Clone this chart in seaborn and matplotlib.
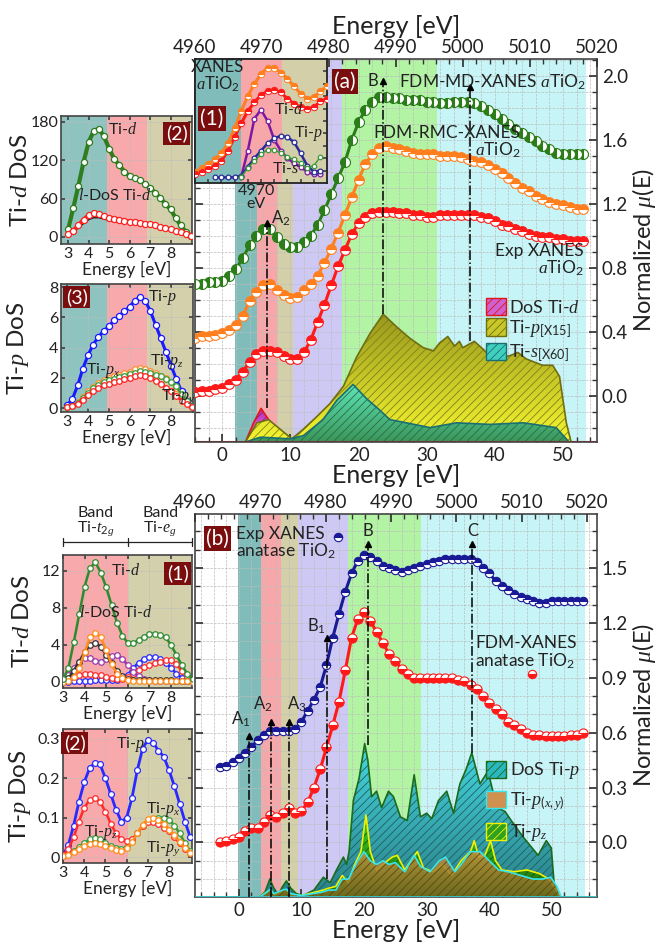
import numpy as np
import pandas as pd
import matplotlib
matplotlib.use('Agg')
import matplotlib.pyplot as plt
import seaborn as sns
from matplotlib.colors import LinearSegmentedColormap
from matplotlib.patches import Patch
from matplotlib.ticker import MultipleLocator

# ---------------- DATA ----------------
# Panel (a): XANES spectra, energy relative to edge (eV)
a_energy = list(range(-4, 54))
a_md = [0.70, 0.70, 0.71, 0.71, 0.72, 0.75, 0.79, 0.86, 0.94, 1.00, 1.04, 1.04, 0.99, 0.95, 0.93, 0.93,
        0.96, 1.00, 1.07, 1.16, 1.26, 1.36, 1.46, 1.60, 1.71, 1.79, 1.84, 1.87, 1.87, 1.86, 1.86, 1.85,
        1.85, 1.85, 1.84, 1.84, 1.83, 1.83, 1.84, 1.84, 1.84, 1.83, 1.81, 1.79, 1.76, 1.73, 1.70, 1.67,
        1.64, 1.62, 1.59, 1.56, 1.54, 1.52, 1.51, 1.51, 1.51, 1.51]
a_rmc = [0.36, 0.37, 0.37, 0.38, 0.39, 0.41, 0.44, 0.50, 0.59, 0.65, 0.69, 0.70, 0.66, 0.63, 0.61, 0.62,
         0.66, 0.70, 0.75, 0.83, 0.92, 1.02, 1.13, 1.24, 1.35, 1.45, 1.51, 1.55, 1.56, 1.55, 1.54, 1.53,
         1.52, 1.51, 1.51, 1.51, 1.50, 1.50, 1.50, 1.49, 1.48, 1.47, 1.46, 1.44, 1.42, 1.39, 1.36, 1.33,
         1.30, 1.28, 1.25, 1.23, 1.21, 1.20, 1.19, 1.18, 1.17, 1.17]
a_exp = [0.02, 0.03, 0.03, 0.04, 0.05, 0.07, 0.10, 0.15, 0.21, 0.26, 0.28, 0.28, 0.27, 0.25, 0.23, 0.23,
         0.27, 0.35, 0.46, 0.57, 0.69, 0.81, 0.91, 1.01, 1.08, 1.12, 1.14, 1.15, 1.15, 1.15, 1.14, 1.14,
         1.13, 1.13, 1.12, 1.12, 1.13, 1.13, 1.13, 1.13, 1.13, 1.13, 1.12, 1.11, 1.09, 1.07, 1.06, 1.04,
         1.03, 1.01, 1.00, 0.99, 0.99, 0.98, 0.98, 0.97, 0.97, 0.97]
# Panel (a): DoS (drawn in the mu(E) axis units, baseline -0.29)
a_dos_d_x = [2.8, 3.4, 4.6, 5.7, 6.8, 8.0, 9.2, 10.0]
a_dos_d_y = [-0.29, -0.29, -0.17, -0.08, -0.15, -0.25, -0.29, -0.29]
a_dos_p_x = [3.4, 5.1, 6.8, 8.5, 10.2, 11.9, 13.9, 15.8, 17.8, 19.7, 21.7, 23.6, 25.6, 27.5, 29.5, 31.0,
             31.9, 33.1, 34.1, 34.8, 35.3, 37.0, 38.3, 39.5, 41.2, 42.2, 43.4, 44.6, 47.0, 48.5, 49.5,
             50.5, 51.2]
a_dos_p_y = [-0.29, -0.17, -0.15, -0.21, -0.27, -0.21, -0.13, -0.05, 0.06, 0.24, 0.39, 0.51, 0.43, 0.36,
             0.30, 0.28, 0.33, 0.37, 0.31, 0.34, 0.30, 0.34, 0.29, 0.24, 0.24, 0.25, 0.27, 0.23, 0.19,
             0.19, 0.12, -0.17, -0.29]
a_dos_s_x = [3.4, 5.6, 10.0, 11.9, 14.8, 16.8, 19.2, 21.2, 23.1, 24.6, 27.0, 30.5, 34.4, 39.3, 44.2, 49.0, 50.9]
a_dos_s_y = [-0.29, -0.26, -0.27, -0.25, -0.15, -0.03, 0.07, -0.02, -0.09, -0.15, -0.17, -0.20, -0.17,
             -0.18, -0.17, -0.20, -0.29]

# Panel (a) inset (1): normalised inset coordinates
a1_x = [0.0, 0.05, 0.1, 0.15, 0.2, 0.25, 0.3, 0.35, 0.4, 0.45, 0.5, 0.55, 0.6, 0.65, 0.7, 0.75, 0.8,
        0.85, 0.9, 0.95, 1.0]
a1_orange = [0.09, 0.12, 0.15, 0.19, 0.24, 0.32, 0.44, 0.58, 0.70, 0.80, 0.88, 0.93, 0.93, 0.89, 0.84,
             0.78, 0.72, 0.68, 0.69, 0.74, 0.78]
a1_red = [0.07, 0.09, 0.11, 0.14, 0.18, 0.26, 0.37, 0.48, 0.58, 0.65, 0.71, 0.74, 0.75, 0.73, 0.68,
          0.64, 0.61, 0.60, 0.61, 0.66, 0.68]
a1_d_x = [0.35, 0.4, 0.45, 0.5, 0.55, 0.6, 0.65, 0.7, 0.75, 0.8, 0.85, 0.9, 0.95]
a1_d = [0.05, 0.26, 0.52, 0.59, 0.50, 0.35, 0.26, 0.20, 0.16, 0.13, 0.09, 0.07, 0.07]
a1_p_x = [0.15, 0.2, 0.25, 0.3, 0.35, 0.4, 0.45, 0.5, 0.55, 0.6, 0.65, 0.7, 0.75, 0.8, 0.85, 0.9, 0.95]
a1_p = [0.045, 0.045, 0.045, 0.045, 0.06, 0.13, 0.20, 0.26, 0.32, 0.36, 0.38, 0.37, 0.33, 0.24, 0.14, 0.09, 0.10]
a1_s_x = [0.35, 0.4, 0.45, 0.5, 0.55, 0.6, 0.65, 0.7, 0.75, 0.8, 0.85, 0.9, 0.95]
a1_s = [0.05, 0.12, 0.18, 0.23, 0.27, 0.27, 0.24, 0.21, 0.19, 0.16, 0.12, 0.14, 0.21]

# Left insets energy grid (eV)
ins_e = [3.0, 3.25, 3.5, 3.75, 4.0, 4.25, 4.5, 4.75, 5.0, 5.25, 5.5, 5.75, 6.0, 6.25, 6.5, 6.75, 7.0,
         7.25, 7.5, 7.75, 8.0, 8.25, 8.5, 8.75, 9.0]
# inset (2) of panel (a): Ti-d DoS
a2_tid = [12, 45, 80, 117, 148, 166, 169, 157, 138, 122, 112, 102, 95, 92, 89, 83, 77, 69, 61, 52, 43,
          30, 18, 8, 2]
a2_ldos = [5, 10, 18, 27, 34, 37, 36, 33, 30, 28, 27, 25, 24, 23, 22, 21, 20, 18, 16, 14, 12, 10, 7, 4, 1]
a2_ldos_k = [4, 8, 14, 21, 27, 30, 30, 28, 26, 24, 23, 22, 21, 20, 20, 19, 18, 17, 15, 13, 11, 9, 6, 3, 1]
# inset (3) of panel (a): Ti-p DoS
a3_tip = [0.2, 0.6, 1.5, 2.6, 3.5, 4.2, 4.7, 5.1, 5.4, 5.8, 6.1, 6.4, 6.7, 7.1, 7.35, 7.1, 6.4, 5.5, 4.6,
          3.7, 2.8, 1.9, 1.1, 0.5, 0.15]
a3_tipz = [0.05, 0.15, 0.4, 0.75, 1.1, 1.4, 1.65, 1.85, 2.0, 2.1, 2.2, 2.3, 2.4, 2.55, 2.65, 2.6, 2.45,
           2.3, 2.15, 2.0, 1.75, 1.3, 0.8, 0.35, 0.1]
a3_tipx = [0.05, 0.15, 0.35, 0.65, 1.0, 1.3, 1.5, 1.7, 1.85, 1.95, 2.05, 2.15, 2.25, 2.35, 2.45, 2.4,
           2.3, 2.2, 2.1, 1.95, 1.75, 1.45, 0.9, 0.45, 0.15]
a3_tipy = [0.05, 0.15, 0.3, 0.55, 0.85, 1.1, 1.3, 1.5, 1.6, 1.7, 1.8, 1.9, 2.0, 2.1, 2.2, 2.15, 2.0,
           1.8, 1.6, 1.35, 1.1, 0.8, 0.5, 0.25, 0.08]

# Panel (b): XANES anatase
b_energy = list(range(-3, 56))
b_exp = [0.41, 0.42, 0.44, 0.46, 0.49, 0.52, 0.56, 0.59, 0.61, 0.61, 0.61, 0.61, 0.62, 0.66, 0.72, 0.78,
         0.85, 0.97, 1.12, 1.25, 1.37, 1.47, 1.54, 1.57, 1.56, 1.54, 1.51, 1.50, 1.49, 1.48, 1.49, 1.50,
         1.51, 1.52, 1.53, 1.54, 1.55, 1.55, 1.55, 1.55, 1.55, 1.53, 1.50, 1.47, 1.43, 1.40, 1.38, 1.36,
         1.34, 1.33, 1.32, 1.31, 1.31, 1.32, 1.32, 1.32, 1.32, 1.32, 1.32]
b_fdm = [0.00, 0.01, 0.02, 0.03, 0.06, 0.08, 0.08, 0.11, 0.15, 0.14, 0.16, 0.19, 0.16, 0.17, 0.22, 0.30,
         0.40, 0.52, 0.64, 0.77, 0.94, 1.12, 1.22, 1.26, 1.21, 1.15, 1.09, 1.03, 0.99, 0.95, 0.92, 0.90,
         0.90, 0.90, 0.90, 0.90, 0.90, 0.90, 0.89, 0.88, 0.86, 0.84, 0.80, 0.76, 0.73, 0.70, 0.66, 0.64,
         0.62, 0.60, 0.59, 0.59, 0.58, 0.58, 0.58, 0.58, 0.59, 0.59, 0.60]
# Panel (b): DoS (baseline -0.30)
b_dos_p_x = [-7, 3.3, 4.2, 4.95, 5.6, 6.3, 7.0, 7.6, 8.3, 9.2, 10.3, 12.0, 13.5, 14.6, 15.6, 16.7, 17.2,
             17.6, 18.3, 19.2, 20.1, 20.6, 21.2, 22.0, 22.8, 23.9, 24.7, 25.8, 26.9, 28.0, 29.0, 30.0,
             30.8, 31.9, 33.2, 34.3, 35.3, 36.3, 37.2, 38.5, 39.8, 41.2, 42.5, 43.5, 45.4, 47.8, 49.1,
             49.9, 50.5, 50.8, 57]
b_dos_p_y = [-0.30, -0.30, -0.27, -0.20, -0.25, -0.285, -0.24, -0.21, -0.25, -0.28, -0.29, -0.26, -0.19,
             -0.22, -0.15, -0.08, -0.12, -0.05, 0.23, 0.35, 0.54, 0.45, 0.25, 0.28, 0.19, 0.28, 0.25,
             0.14, 0.12, 0.37, 0.14, 0.16, 0.13, 0.23, 0.28, 0.16, 0.32, 0.40, 0.49, 0.32, 0.39, 0.19,
             0.17, 0.12, 0.03, -0.07, 0.01, -0.03, -0.285, -0.30, -0.30]
b_dos_pz_x = [-7, 3.3, 4.5, 5.0, 5.6, 7.0, 7.6, 8.3, 10, 13.5, 14.3, 15.5, 16.5, 17.5, 18.5, 19.5, 20.3,
              21.0, 22, 23, 24.5, 25.3, 26.5, 27.5, 28.5, 29.5, 31, 32.5, 34, 35.5, 37, 37.6, 38.3,
              39.3, 40.2, 41, 42, 44, 46, 48, 49.5, 50.5, 51.3, 57]
b_dos_pz_y = [-0.30, -0.30, -0.27, -0.26, -0.285, -0.27, -0.26, -0.285, -0.29, -0.26, -0.25, -0.24,
              -0.18, -0.22, -0.12, -0.05, 0.15, -0.05, -0.15, -0.12, -0.08, -0.07, -0.15, -0.10, -0.05,
              -0.14, -0.16, -0.12, -0.18, -0.10, -0.05, 0.01, -0.08, -0.07, 0.01, -0.10, -0.15, -0.16,
              -0.15, -0.17, -0.20, -0.25, -0.30, -0.30]
b_dos_pxy_x = [-7, 3.3, 4.5, 5.0, 5.6, 7.0, 7.6, 8.3, 10, 13.5, 14.3, 15.5, 16.5, 17.5, 19.0, 20.0, 21.0,
               22.0, 23.0, 24.0, 25.0, 26.5, 28.0, 29.0, 30.5, 32.0, 33.0, 34.5, 35.5, 37.0, 38.5, 40.0,
               41.5, 43.0, 45.0, 47.0, 48.5, 49.8, 50.8, 51.5, 57]
b_dos_pxy_y = [-0.30, -0.30, -0.27, -0.255, -0.28, -0.26, -0.255, -0.28, -0.29, -0.27, -0.26, -0.26,
               -0.20, -0.20, -0.10, -0.05, -0.10, -0.12, -0.10, -0.12, -0.11, -0.16, -0.07, -0.13,
               -0.16, -0.10, -0.08, -0.16, -0.12, -0.05, -0.05, -0.10, -0.15, -0.16, -0.18, -0.20,
               -0.20, -0.19, -0.24, -0.30, -0.30]

# inset (1) of panel (b): Ti-d DoS
b1_tid = [0.3, 1.5, 4.3, 7.3, 10.3, 12.3, 12.9, 11.8, 10.2, 8.3, 6.4, 5.0, 4.2, 4.2, 4.5, 4.9, 5.2, 5.2,
          5.1, 4.8, 4.0, 2.9, 1.8, 0.9, 0.3]
b1_orange = [0.0, 0.1, 0.5, 1.5, 3.2, 4.8, 5.3, 4.8, 3.4, 1.9, 0.9, 0.4, 0.2, 0.15, 0.15, 0.15, 0.15,
             0.15, 0.15, 0.12, 0.12, 0.1, 0.1, 0.08, 0.05]
b1_black = [0.1, 0.4, 1.2, 2.2, 3.2, 4.0, 4.2, 3.8, 2.9, 2.0, 1.2, 0.6, 0.3, 0.25, 0.2, 0.2, 0.2, 0.2,
            0.2, 0.2, 0.18, 0.15, 0.12, 0.1, 0.1]
b1_purple = [0.3, 0.8, 1.5, 2.2, 2.6, 2.6, 2.3, 2.2, 2.5, 2.85, 2.9, 2.5, 1.8, 1.1, 0.6, 0.35, 0.2, 0.15,
             0.12, 0.1, 0.1, 0.1, 0.1, 0.1, 0.1]
b1_blue = [0.0, 0.05, 0.08, 0.1, 0.12, 0.15, 0.18, 0.18, 0.18, 0.18, 0.2, 0.4, 0.8, 1.5, 2.1, 2.5, 2.7,
           2.7, 2.5, 2.1, 1.5, 0.9, 0.45, 0.2, 0.05]
b1_red = [0.1, 0.3, 0.55, 0.75, 0.85, 0.85, 0.8, 0.7, 0.55, 0.4, 0.3, 0.3, 0.5, 0.9, 1.3, 1.6, 1.8, 2.0,
          2.2, 2.4, 2.35, 1.9, 1.2, 0.5, 0.15]
# inset (2) of panel (b): Ti-p DoS
b2_tip = [0.005, 0.03, 0.08, 0.14, 0.19, 0.225, 0.24, 0.235, 0.2, 0.16, 0.12, 0.09, 0.1, 0.15, 0.22,
          0.275, 0.298, 0.29, 0.27, 0.255, 0.22, 0.18, 0.135, 0.09, 0.05]
b2_tipz = [0.005, 0.02, 0.05, 0.09, 0.125, 0.145, 0.15, 0.14, 0.115, 0.085, 0.06, 0.045, 0.04, 0.045,
           0.06, 0.08, 0.09, 0.09, 0.085, 0.075, 0.065, 0.05, 0.035, 0.02, 0.01]
b2_tipx = [0.003, 0.008, 0.015, 0.025, 0.035, 0.045, 0.048, 0.045, 0.037, 0.028, 0.022, 0.02, 0.025,
           0.04, 0.06, 0.08, 0.092, 0.097, 0.1, 0.1, 0.095, 0.08, 0.06, 0.035, 0.015]
b2_tipy = [0.003, 0.006, 0.012, 0.02, 0.028, 0.034, 0.036, 0.034, 0.028, 0.022, 0.017, 0.016, 0.022,
           0.038, 0.06, 0.082, 0.097, 0.1, 0.095, 0.085, 0.07, 0.055, 0.038, 0.022, 0.01]

# Energy-range bands (eV)
a_bands = [(1.9, 5.1, '#80bdba'), (5.1, 8.0, '#f7a7a9'), (8.0, 10.4, '#d3cfa9'),
           (10.4, 17.6, '#cdc9f4'), (17.6, 31.5, '#b2f4a4'), (31.5, 53.4, '#c7f4f6')]
b_bands = [(-0.2, 3.5, '#80bdba'), (3.5, 6.7, '#f7a7a9'), (6.7, 9.4, '#d3cfa9'),
           (9.4, 17.4, '#cdc9f4'), (17.4, 29.1, '#b2f4a4'), (29.1, 55.3, '#c7f4f6')]

# ---------------- STYLE ----------------
sns.set_theme(style='ticks')
plt.rcParams['font.family'] = ['Lato', 'DejaVu Sans']
plt.rcParams['mathtext.fontset'] = 'custom'
plt.rcParams['mathtext.rm'] = 'Lato'
plt.rcParams['mathtext.it'] = 'Liberation Serif:italic'
plt.rcParams['mathtext.bf'] = 'Lato:bold'
plt.rcParams['hatch.linewidth'] = 0.6
plt.rcParams['axes.edgecolor'] = '#444444'
plt.rcParams['axes.linewidth'] = 1.2

BOXC = '#7a0d0d'
TXT = '#222222'
fig = plt.figure(figsize=(6.6, 9.46), dpi=100)


def frac(l, t, r, b):
    return [l / 660, 1 - b / 946, (r - l) / 660, (b - t) / 946]


def bands(ax, spans):
    for x0, x1, c in spans:
        ax.axvspan(x0, x1, color=c, lw=0, zorder=0.1)


def grad_fill(ax, x, y, base, ctop, cbot, edge, hatch_c, z, lw=1.2, alpha=1.0):
    poly = ax.fill_between(x, base, y, facecolor='none', edgecolor='none', zorder=z)
    path = poly.get_paths()[0]
    cmap = LinearSegmentedColormap.from_list('g', [cbot, ctop])
    grad = np.linspace(1, 0, 256).reshape(-1, 1)
    im = ax.imshow(grad, extent=[min(x), max(x), base, max(y)], origin='upper', aspect='auto',
                   cmap=cmap, zorder=z, alpha=alpha, interpolation='bilinear')
    im.set_clip_path(path, transform=ax.transData)
    ax.fill_between(x, base, y, facecolor='none', edgecolor=hatch_c, hatch='////', linewidth=0,
                    zorder=z + 0.05)
    ax.plot(x, y, color=edge, lw=lw, zorder=z + 0.1)


def halfmark(ax, x, y, color, fs, ms, z=3, mew=0.8, line=True):
    if line:
        sns.lineplot(x=x, y=y, ax=ax, color=color, lw=2.2, zorder=z - 0.1)
    sns.lineplot(x=x, y=y, ax=ax, color=color, marker='o', linestyle='', markersize=ms,
                 fillstyle=fs, markerfacecolor=color, markerfacecoloralt='white',
                 markeredgecolor=color, markeredgewidth=mew, zorder=z)


def openmark(ax, x, y, color, ms=3.6, z=3, mew=0.9, lw=1.6):
    sns.lineplot(x=x, y=y, ax=ax, color=color, marker='o', linestyle='-',
                 lw=lw, markersize=ms, markerfacecolor='white', markeredgecolor=color,
                 markeredgewidth=mew, zorder=z)


def boxlabel(ax, x, y, s, fs=14):
    ax.text(x, y, s, color='white', fontsize=fs, ha='center', va='center', zorder=10,
            bbox=dict(boxstyle='square,pad=0.12', fc=BOXC, ec='none'))


def arrow_line(ax, x, y0, y1, lw=1.1):
    ax.plot([x, x], [y0, y1], color='black', ls='-.', lw=lw, zorder=4)
    ax.plot([x], [y1], marker='^', color='black', ms=4.5, zorder=4)


def setup_main(ax, xlim, ylim, ymaj, top_lim, top_label):
    ax.set_xlim(xlim)
    ax.set_ylim(ylim)
    ax.xaxis.set_major_locator(MultipleLocator(10))
    ax.xaxis.set_minor_locator(MultipleLocator(2))
    ax.yaxis.set_major_locator(MultipleLocator(ymaj))
    ax.yaxis.set_minor_locator(MultipleLocator(0.1))
    ax.yaxis.tick_right()
    ax.yaxis.set_label_position('right')
    ax.tick_params(which='both', direction='in', left=True, right=True, top=False, bottom=True,
                   labelsize=13.5, colors='#333333', labelcolor=TXT)
    ax.tick_params(which='major', length=6)
    ax.tick_params(which='minor', length=3.5)
    ax.set_axisbelow(True)
    ax.grid(True, which='both', ls='--', lw=0.5, color='#bdbdbd')
    ax.set_ylabel('Normalized $\\mu$(E)', fontsize=17, color=TXT, labelpad=1)
    axt = ax.twiny()
    axt.set_xlim(top_lim)
    axt.xaxis.set_major_locator(MultipleLocator(10))
    axt.xaxis.set_minor_locator(MultipleLocator(2))
    axt.tick_params(which='both', direction='in', top=True, labelsize=13.5, colors='#333333',
                    labelcolor=TXT, pad=2)
    axt.tick_params(which='major', length=6)
    axt.tick_params(which='minor', length=3.5)
    if top_label:
        axt.set_xlabel('Energy [eV]', fontsize=18, color=TXT, labelpad=4)
    for s in axt.spines.values():
        s.set_visible(False)
    return axt


def setup_inset(ax, xlim, ylim, yticks, ylabel, ylabel_x):
    ax.set_xlim(xlim)
    ax.set_ylim(ylim)
    ax.set_xticks([3, 4, 5, 6, 7, 8])
    ax.set_yticks(yticks)
    ax.tick_params(which='both', direction='in', labelsize=11.5, colors='#444444',
                   labelcolor=TXT, length=3, pad=2, right=True, top=True)
    ax.set_axisbelow(True)
    ax.grid(True, ls='--', lw=0.5, color='#bdbdbd')
    ax.set_xlabel('Energy [eV]', fontsize=12.5, color=TXT, labelpad=0)
    ax.set_ylabel(ylabel, fontsize=17.5, color=TXT)
    ax.yaxis.set_label_coords(ylabel_x, 0.5)


# ================= PANEL (a) =================
axa = fig.add_axes(frac(195, 59, 597, 442))
bands(axa, a_bands)
grad_fill(axa, a_dos_d_x, a_dos_d_y, -0.29, '#b42ab4', '#f080e8', '#e01515', '#8a208a', 2.0)
grad_fill(axa, a_dos_p_x, a_dos_p_y, -0.29, '#98981e', '#f6f630', '#6e6e12', '#80801a', 2.2)
grad_fill(axa, a_dos_s_x, a_dos_s_y, -0.29, '#5ee6b8', '#3a9658', '#1b6f73', '#2a6a4a', 2.4)
axa.plot([-4, 55], [-0.29, -0.29], color='#e01515', lw=1.5, zorder=2.5)

halfmark(axa, a_energy, a_exp, '#ff1a1a', 'top', 7.0)
halfmark(axa, a_energy, a_rmc, '#ff7f1e', 'top', 7.0)
halfmark(axa, a_energy, a_md, '#2b7d19', 'left', 7.2)

arrow_line(axa, 6.6, -0.08, 1.08)
arrow_line(axa, 23.6, 0.51, 1.97)
arrow_line(axa, 36.3, 0.34, 1.93)
axa_t = setup_main(axa, (-4, 55), (-0.29, 2.106), 0.4, (4960.0, 5020.05), True)
axa.set_xlabel('Energy [eV]', fontsize=18, color=TXT, labelpad=0)

axa.text(5.0, 1.24, '4970\neV', fontsize=11.5, ha='center', va='center', color=TXT,
         linespacing=0.95, zorder=6)
axa.text(7.1, 1.11, 'A$_2$', fontsize=12, ha='left', va='center', color=TXT, zorder=6)
axa.text(22.9, 1.97, 'B', fontsize=12, ha='right', va='center', color=TXT, zorder=6)
axa.text(26.0, 1.96, 'FDM-MD-XANES $a$TiO$_2$', fontsize=12.5, ha='left', va='center',
         color=TXT, zorder=6)
axa.text(43.8, 1.585, 'FDM-RMC-XANES\n$a$TiO$_2$', fontsize=12.5, ha='right', va='center',
         multialignment='right', color=TXT, linespacing=1.0, zorder=6)
axa.text(53.0, 0.845, 'Exp XANES\n$a$TiO$_2$', fontsize=12.5, ha='right', va='center',
         multialignment='right', color=TXT, linespacing=1.0, zorder=6)
boxlabel(axa, 18.0, 1.965, '(a)', fs=15)

leg_a = [Patch(facecolor='#d060d0', edgecolor='#e01515', hatch='////', label='DoS Ti-$d$'),
         Patch(facecolor='#c8c828', edgecolor='#6e6e12', hatch='////', label='Ti-$p_{\\mathrm{[X15]}}$'),
         Patch(facecolor='#40d0c0', edgecolor='#1b6f73', hatch='////', label='Ti-$s_{\\mathrm{[X60]}}$')]
axa.legend(handles=leg_a, loc='upper right', bbox_to_anchor=(0.985, 0.405), frameon=False,
           fontsize=13, handlelength=1.1, handleheight=1.1, handletextpad=0.2, labelspacing=0.15,
           borderpad=0.1)

# inset (1) of panel (a)
a1 = fig.add_axes(frac(195, 59, 327, 183))
a1.set_facecolor('white')
bands(a1, [(0, 0.35, '#80bdba'), (0.35, 0.66, '#f7a7a9'), (0.66, 1.0, '#d3cfa9')])
halfmark(a1, a1_x, a1_orange, '#ff7f1e', 'top', 4.6, mew=0.7)
halfmark(a1, a1_x, a1_red, '#ff1a1a', 'top', 4.6, mew=0.7)
openmark(a1, a1_d_x, a1_d, '#7a1aa0', ms=3.4, lw=1.8)
openmark(a1, a1_p_x, a1_p, '#2a2a9a', ms=3.4, lw=1.8)
openmark(a1, a1_s_x, a1_s, '#3a9a3a', ms=3.2, lw=1.0)
a1.set_xlim(0, 1)
a1.set_ylim(0, 1)
a1.set_xticks(np.arange(0.1, 1.0, 0.1))
a1.set_yticks(np.arange(0.1, 1.0, 0.1))
a1.tick_params(direction='in', length=3, labelbottom=False, labelleft=False, right=True,
               left=False, colors='#444444')
for s in a1.spines.values():
    s.set_color(TXT)
    s.set_linewidth(1.3)
a1.text(0.17, 0.86, 'XANES\n$a$TiO$_2$', fontsize=12, ha='center', va='center',
        color=TXT, linespacing=0.95)
boxlabel(a1, 0.13, 0.52, '(1)', fs=15)
a1.text(0.6, 0.6, 'Ti-$d$', fontsize=11.5, ha='left', va='center', color=TXT)
a1.text(0.75, 0.4, 'Ti-$p$', fontsize=11.5, ha='left', va='center', color=TXT)
a1.text(0.58, 0.12, 'Ti-$s$', fontsize=11.5, ha='left', va='center', color=TXT)

# inset (2) of panel (a): Ti-d DoS
a2 = fig.add_axes(frac(61, 116, 192, 244))
bands(a2, [(2.65, 4.9, '#8fc3c0'), (4.9, 6.85, '#f7a9ab'), (6.85, 9.05, '#d3d0ab')])
sns.lineplot(x=ins_e, y=a2_ldos_k, ax=a2, color='#222222', lw=1.0, zorder=2.5)
openmark(a2, ins_e, a2_tid, '#2f7d1f', ms=4.4, lw=3.0)
openmark(a2, ins_e, a2_ldos, '#ff2020', ms=4.4, lw=3.0)
setup_inset(a2, (2.65, 9.05), (-11, 189), [0, 60, 120, 180], 'Ti-$d$ DoS', -0.23)
boxlabel(a2, 8.3, 162, '(2)', fs=14)
a2.text(4.95, 168, 'Ti-$d$', fontsize=11.5, ha='left', va='center', color=TXT)
a2.text(5.3, 65, '$l$-DoS Ti-$d$', fontsize=11.5, ha='center', va='center', color=TXT)

# inset (3) of panel (a): Ti-p DoS
a3 = fig.add_axes(frac(61, 284, 193, 412))
bands(a3, [(2.7, 4.9, '#8fc3c0'), (4.9, 6.85, '#f7a9ab'), (6.85, 9.05, '#d3d0ab')])
openmark(a3, ins_e, a3_tip, '#1a1aff', ms=4.4, lw=2.2)
openmark(a3, ins_e, a3_tipz, '#ff8c2a', ms=4.0, lw=1.8)
openmark(a3, ins_e, a3_tipx, '#3a9a3a', ms=4.0, lw=1.8)
openmark(a3, ins_e, a3_tipy, '#ff2020', ms=4.0, lw=1.8)
setup_inset(a3, (2.7, 9.05), (-0.26, 8.2), [0, 2, 4, 6, 8], 'Ti-$p$ DoS', -0.23)
boxlabel(a3, 3.45, 7.35, '(3)', fs=14)
a3.text(6.9, 7.3, 'Ti-$p$', fontsize=11.5, ha='left', va='center', color=TXT)
a3.text(3.9, 2.45, 'Ti-$p_x$', fontsize=11.5, ha='left', va='center', color=TXT)
a3.text(7.0, 3.1, 'Ti-$p_z$', fontsize=11.5, ha='left', va='center', color=TXT)
a3.text(7.5, 0.75, 'Ti-$p_y$', fontsize=11.5, ha='left', va='center', color=TXT)

# ================= PANEL (b) =================
axb = fig.add_axes(frac(195, 514, 597, 897))
bands(axb, b_bands)
grad_fill(axb, b_dos_p_x, b_dos_p_y, -0.30, '#45dae2', '#2a7e86', '#1c6a1c', '#1e5e60', 2.0)
grad_fill(axb, b_dos_pz_x, b_dos_pz_y, -0.30, '#3ad020', '#1e6a10', '#f2f200', '#185a10', 2.2)
grad_fill(axb, b_dos_pxy_x, b_dos_pxy_y, -0.30, '#c89040', '#7a6a20', '#38e6ee', '#5a4a10', 2.4,
          alpha=0.85)
axb.plot([-7, 57], [-0.298, -0.298], color='#38e6ee', lw=1.8, zorder=2.6)

halfmark(axb, b_energy, b_fdm, '#ff1a1a', 'bottom', 6.6)
halfmark(axb, b_energy, b_exp, '#1a1a96', 'top', 6.0)

arrow_line(axb, 1.6, -0.30, 0.58)
arrow_line(axb, 5.2, -0.30, 0.66)
arrow_line(axb, 8.0, -0.30, 0.66)
arrow_line(axb, 14.1, -0.20, 1.12)
arrow_line(axb, 20.6, 0.53, 1.63)
arrow_line(axb, 37.3, 0.49, 1.63)
setup_main(axb, (-7, 57.2), (-0.298, 1.795), 0.3, (4960.0, 5021.5), False)
axb.set_xlabel('Energy [eV]', fontsize=18, color=TXT, labelpad=0)

axb.text(0.3, 0.62, 'A$_1$', fontsize=12, ha='center', va='bottom', color=TXT, zorder=6)
axb.text(3.8, 0.70, 'A$_2$', fontsize=12, ha='center', va='bottom', color=TXT, zorder=6)
axb.text(9.2, 0.70, 'A$_3$', fontsize=12, ha='center', va='bottom', color=TXT, zorder=6)
axb.text(12.4, 1.13, 'B$_1$', fontsize=12, ha='center', va='bottom', color=TXT, zorder=6)
axb.text(20.6, 1.66, 'B', fontsize=12, ha='center', va='bottom', color=TXT, zorder=6)
axb.text(37.3, 1.66, 'C', fontsize=12, ha='center', va='bottom', color=TXT, zorder=6)
axb.text(-0.4, 1.635, 'Exp XANES\nanatase TiO$_2$', fontsize=12.5, ha='left', va='center',
         color=TXT, linespacing=1.0, zorder=6)
axb.text(37.7, 1.035, 'FDM-XANES\nanatase TiO$_2$', fontsize=12.5, ha='left', va='center',
         color=TXT, linespacing=1.0, zorder=6)
halfmark(axb, [15.8], [1.67], '#1a1a96', 'top', 6.0, z=6, line=False)
halfmark(axb, [46.8], [0.92], '#ff1a1a', 'bottom', 6.0, z=6, line=False)
boxlabel(axb, -3.4, 1.66, '(b)', fs=15)

leg_b = [Patch(facecolor='#2ab8c0', edgecolor='#1c6a1c', hatch='////', label='DoS Ti-$p$'),
         Patch(facecolor='#d09050', edgecolor='#38e6ee', hatch='', label='Ti-$p_{(x,y)}$'),
         Patch(facecolor='#30a020', edgecolor='#f2f200', hatch='////', label='Ti-$p_z$')]
axb.legend(handles=leg_b, loc='upper right', bbox_to_anchor=(0.985, 0.385), frameon=False,
           fontsize=13, handlelength=1.1, handleheight=1.1, handletextpad=0.2, labelspacing=0.5,
           borderpad=0.1)

# inset (1) of panel (b): Ti-d DoS
b1 = fig.add_axes(frac(63, 555, 192, 688))
bands(b1, [(2.9, 6.0, '#f7a9ab'), (6.0, 9.1, '#d3d0ab')])
openmark(b1, ins_e, b1_blue, '#2a2aff', ms=4.0, lw=1.8)
openmark(b1, ins_e, b1_red, '#ff2a2a', ms=4.0, lw=1.8)
openmark(b1, ins_e, b1_purple, '#9a3aaa', ms=4.0, lw=1.8)
openmark(b1, ins_e, b1_black, '#333333', ms=4.0, lw=1.8)
openmark(b1, ins_e, b1_orange, '#ff8c1a', ms=4.0, lw=1.8)
openmark(b1, ins_e, b1_tid, '#2f8a2f', ms=4.0, lw=1.8)
setup_inset(b1, (3.0, 8.97), (-0.65, 13.7), [0, 4, 8, 12], 'Ti-$d$ DoS', -0.23)
boxlabel(b1, 8.3, 11.7, '(1)', fs=14)
b1.text(5.2, 12.1, 'Ti-$d$', fontsize=11.5, ha='left', va='center', color=TXT)
b1.text(5.45, 7.5, '$l$-DoS Ti-$d$', fontsize=11.5, ha='center', va='center', color=TXT)
# band brackets
b1.plot([3.0, 6.0], [15.1, 15.1], color=TXT, lw=0.9, clip_on=False)
b1.plot([6.0, 8.97], [15.1, 15.1], color=TXT, lw=0.9, clip_on=False)
for xb in [3.0, 6.0, 8.97]:
    b1.plot([xb, xb], [14.7, 15.5], color=TXT, lw=0.9, clip_on=False)
b1.text(4.5, 15.5, 'Band\nTi-$t_{2g}$', fontsize=11.5, ha='center', va='bottom', color=TXT,
        linespacing=0.95)
b1.text(7.5, 15.5, 'Band\nTi-$e_g$', fontsize=11.5, ha='center', va='bottom', color=TXT,
        linespacing=0.95)

# inset (2) of panel (b): Ti-p DoS
b2 = fig.add_axes(frac(63, 729, 192, 863))
bands(b2, [(2.9, 6.05, '#f7a9ab'), (6.05, 9.1, '#d3d0ab')])
openmark(b2, ins_e, b2_tip, '#2a2aff', ms=4.2, lw=2.0)
openmark(b2, ins_e, b2_tipx, '#3a9a3a', ms=4.0, lw=1.8)
openmark(b2, ins_e, b2_tipz, '#ff2a2a', ms=4.0, lw=1.8)
openmark(b2, ins_e, b2_tipy, '#ff8c1a', ms=4.0, lw=1.8)
setup_inset(b2, (3.0, 9.08), (-0.015, 0.325), [0, 0.1, 0.2, 0.3], 'Ti-$p$ DoS', -0.23)
b2.set_yticklabels(['0', '0.1', '0.2', '0.3'])
boxlabel(b2, 3.55, 0.29, '(2)', fs=14)
b2.text(6.85, 0.285, 'Ti-$p$', fontsize=11.5, ha='right', va='center', color=TXT)
b2.text(6.9, 0.12, 'Ti-$p_x$', fontsize=11.5, ha='left', va='center', color=TXT)
b2.text(4.0, 0.062, 'Ti-$p_z$', fontsize=11.5, ha='left', va='center', color=TXT)
b2.text(6.9, 0.022, 'Ti-$p_y$', fontsize=11.5, ha='left', va='center', color=TXT)

fig.savefig('out.png', dpi=100)
